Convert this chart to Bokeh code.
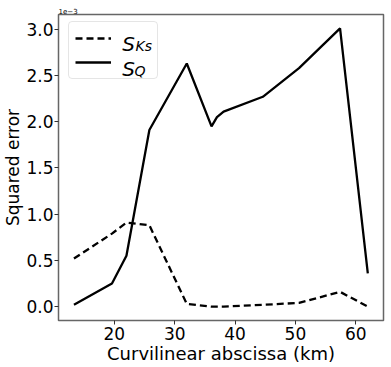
from bokeh.plotting import figure
from bokeh.models import Range1d, Legend, LegendItem, Label, FixedTicker, Title
from bokeh.embed import file_html
from bokeh.resources import INLINE

# data (squared error in units of 1e-3)
km = [13.3, 19.6, 22.0, 25.8, 32.0, 36.1, 37.0, 38.1, 44.6, 50.6, 57.4, 62.0]
s_ks = [0.52, 0.79, 0.91, 0.88, 0.03, 0.00, 0.00, 0.00, 0.02, 0.04, 0.16, 0.00]
s_q = [0.02, 0.25, 0.55, 1.91, 2.63, 1.95, 2.05, 2.11, 2.27, 2.58, 3.01, 0.36]
x_ticks = [20, 30, 40, 50, 60]
y_ticks = [0.0, 0.5, 1.0, 1.5, 2.0, 2.5, 3.0]

FONT = "DejaVu Sans"

p = figure(width=391, height=367, output_backend="svg", toolbar_location=None,
           x_range=Range1d(10.74, 64.6), y_range=Range1d(-0.15, 3.16),
           min_border_left=57, min_border_top=14, min_border_right=8, min_border_bottom=47)

p.grid.visible = False
p.outline_line_color = "#666666"
p.outline_line_width = 1.5

for ax in (p.xaxis[0], p.yaxis[0]):
    ax.axis_line_color = None
    ax.minor_tick_line_color = None
    ax.major_tick_out = 4
    ax.major_tick_in = 0
    ax.major_tick_line_color = "#333333"
    ax.major_label_text_font = FONT
    ax.major_label_text_font_size = "17px"
    ax.major_label_text_color = "black"
    ax.axis_label_text_font = FONT
    ax.axis_label_text_font_size = "18px"
    ax.axis_label_text_font_style = "normal"
    ax.axis_label_text_color = "black"
    ax.major_label_standoff = 2
    ax.axis_label_standoff = 0

p.yaxis.major_label_standoff = 1
p.yaxis.axis_label_text_font_size = "17px"
p.yaxis.axis_label_text_line_height = 0.9
p.xaxis.axis_label_text_line_height = 1.0

p.xaxis.ticker = FixedTicker(ticks=x_ticks)
p.yaxis.ticker = FixedTicker(ticks=y_ticks)
p.yaxis.major_label_overrides = {v: f"{v:.1f}" for v in y_ticks}
p.xaxis.axis_label = "Curvilinear abscissa (km)"
p.yaxis.axis_label = "Squared error"

# offset text of the y axis
p.add_layout(Title(text="1e−3", text_font=FONT, text_font_size="7px",
                   text_font_style="normal", text_color="black",
                   align="left", standoff=1, offset=0), "above")

r_ks = p.line(km, s_ks, line_color="black", line_width=2.3, line_dash="7 4")
r_q = p.line(km, s_q, line_color="black", line_width=2.3)

legend = Legend(items=[LegendItem(label=" ", renderers=[r_ks]),
                       LegendItem(label=" ", renderers=[r_q])],
                location=(10, 306 - 56 - 9),
                glyph_width=36, glyph_height=20, label_height=20, label_width=35,
                label_standoff=5, spacing=4, padding=6, margin=0,
                border_line_color="#cccccc", border_line_width=1, border_radius=4,
                background_fill_color=None, background_fill_alpha=0)
p.add_layout(legend, "center")

def lab(text, x, y, size):
    p.add_layout(Label(text=text, x=x, y=y, x_units="screen", y_units="screen",
                       text_font=FONT, text_font_size=size, text_font_style="italic",
                       text_baseline="alphabetic", text_color="black", level="overlay"))

lab("S", 63.7, 276.7, "20px")
lab("Ks", 77, 275, "14px")
lab("S", 63.7, 251.7, "20px")
lab("Q", 76, 250, "14px")

open("out.html", "w").write(file_html(p, INLINE))
